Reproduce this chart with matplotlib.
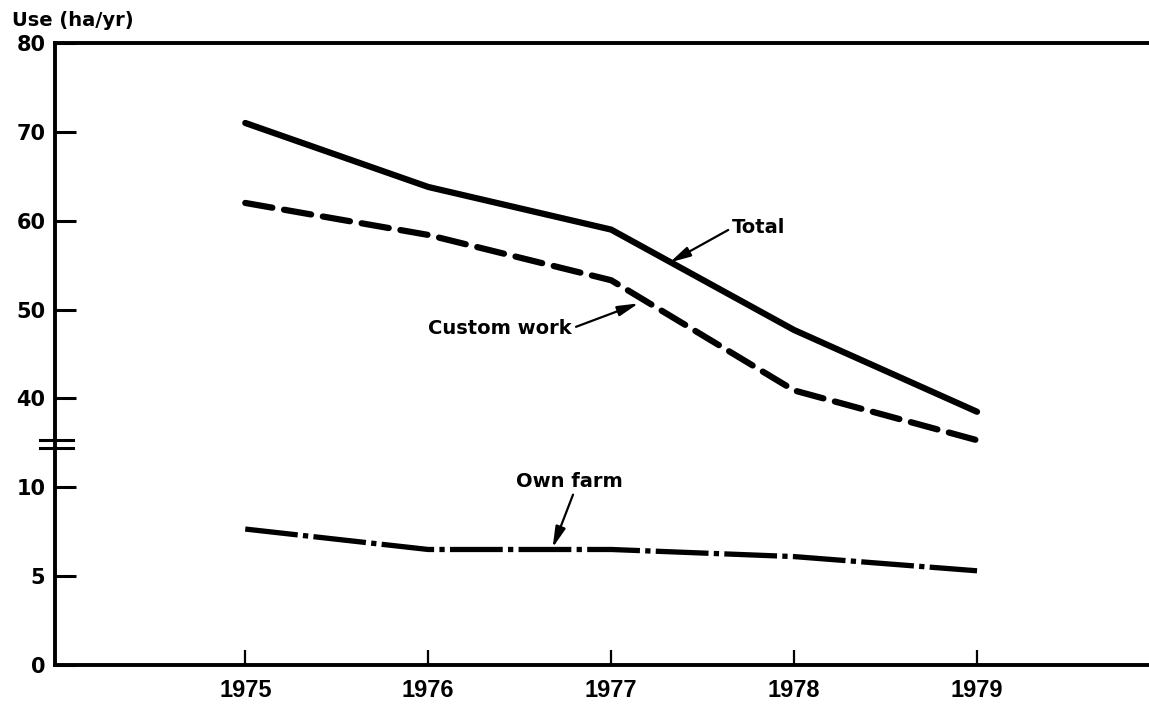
import numpy as np
import matplotlib
matplotlib.use("Agg")
import matplotlib.pyplot as plt

# data
years = [1975, 1976, 1977, 1978, 1979]
total = [71.0, 63.8, 59.0, 47.7, 38.5]
custom_work = [62.0, 58.4, 53.3, 40.9, 35.3]
own_farm = [7.65, 6.5, 6.5, 6.1, 5.3]
y_ticks = [0, 5, 10, 40, 50, 60, 70, 80]


# broken axis: 0-10 squeezed in at 5 per unit, 40-80 at 10 per unit
def fwd(v):
    v = np.asarray(v, dtype=float)
    return np.where(v <= 10, v / 5.0,
                    np.where(v >= 31, 3 + (v - 40) / 10.0, 2 + (v - 10) / 210.0))


def inv(u):
    u = np.asarray(u, dtype=float)
    return np.where(u <= 2, u * 5.0,
                    np.where(u >= 2.1, 40 + (u - 3) * 10.0, 10 + (u - 2) * 210.0))


fig = plt.figure(figsize=(11.49, 7.06), dpi=100)
ax = fig.add_axes([55 / 1149, 1 - 665 / 706, 1 - 55 / 1149, 622 / 706])

ax.set_yscale("function", functions=(fwd, inv))
ax.set_ylim(0, 80)
ax.set_xlim(1973.96, 1979.94)

ax.plot(years, total, color="black", lw=4.5, solid_capstyle="round")
ax.plot(years, custom_work, color="black", lw=4.5, dashes=(4.4, 1.9),
        dash_capstyle="round")
ax.plot(years, own_farm, color="black", lw=3.8, dashes=(10, 1.0, 1.0, 1.0),
        dash_capstyle="butt")

# spines
for side in ["left", "top", "bottom"]:
    ax.spines[side].set_linewidth(2.8)
ax.spines["right"].set_visible(False)

ax.set_yticks(y_ticks)
ax.set_yticklabels([str(t) for t in y_ticks], fontfamily="DejaVu Sans",
                   fontweight="bold", fontsize=15)
ax.set_xticks(years)
ax.set_xticklabels([str(y) for y in years], fontfamily="Liberation Sans",
                   fontweight="bold", fontsize=17)
ax.yaxis.set_minor_locator(matplotlib.ticker.NullLocator())
ax.tick_params(axis="y", direction="in", length=15, width=2.2, pad=7)
ax.tick_params(axis="x", direction="in", length=11, width=1.6, pad=10)

# break marks on the y axis
for yb in [0.362, 0.349]:
    ax.plot([-0.014, 0.016], [yb, yb], transform=ax.transAxes, color="black",
            lw=2.2, clip_on=False)

fig.text(12 / 1149, 1 - 20 / 706, "Use (ha/yr)", ha="left", va="center",
         fontfamily="DejaVu Sans", fontweight="bold", fontsize=14)

arrow = dict(arrowstyle="-|>,head_length=0.9,head_width=0.22", color="black",
             lw=1.6, shrinkA=1, shrinkB=0)
txt = dict(fontfamily="DejaVu Sans", fontweight="bold", fontsize=14)

ax.annotate("Total", xy=(1977.32, 55.3), xytext=(45, 25),
            textcoords="offset points", ha="left", va="center",
            arrowprops=dict(arrow, relpos=(0, 0.5)), **txt)
ax.annotate("Custom work", xy=(1977.15, 50.7), xytext=(-48, -18),
            textcoords="offset points", ha="right", va="center",
            arrowprops=dict(arrow, relpos=(1, 0.5)), **txt)
ax.annotate("Own farm", xy=(1976.68, 6.6), xytext=(12, 48),
            textcoords="offset points", ha="center", va="center",
            arrowprops=dict(arrow, relpos=(0.55, 0)), **txt)

fig.savefig("out.png", dpi=100)
